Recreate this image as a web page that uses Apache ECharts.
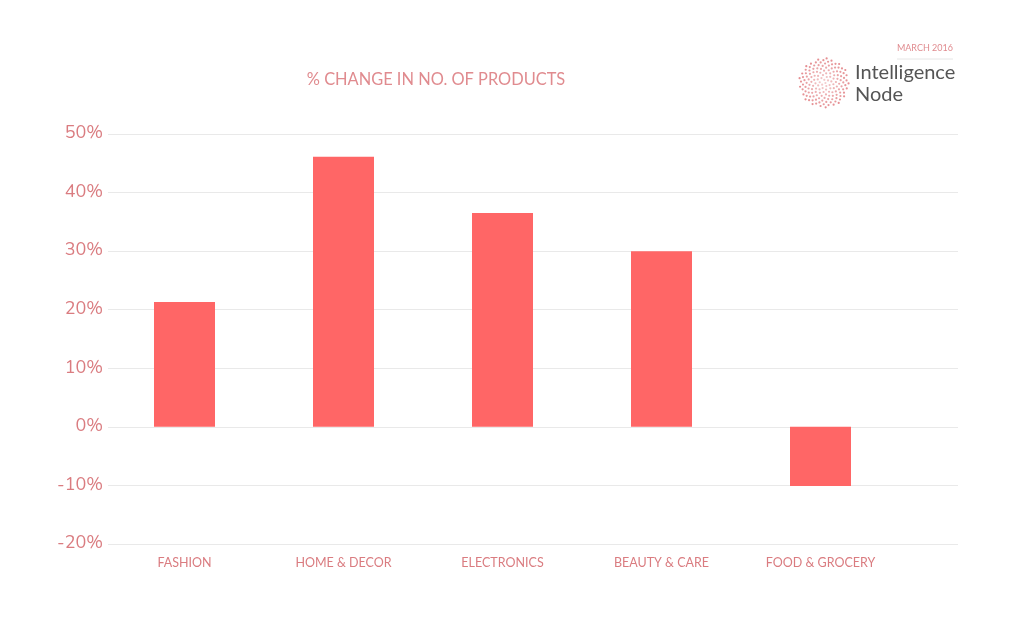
<!DOCTYPE html>
<html>
<head>
<meta charset="utf-8">
<script src="https://cdn.jsdelivr.net/npm/echarts@6/dist/echarts.min.js"></script>
<style>html,body{margin:0;padding:0;background:#fff;}#chart{width:1024px;height:617px;}</style>
</head>
<body>
<div id="chart"></div>
<script>
const categories = ['FASHION', 'HOME & DECOR', 'ELECTRONICS', 'BEAUTY & CARE', 'FOOD & GROCERY'];
const changeValues = [21.3, 46.1, 36.5, 30.0, -10.1];
const yTicks = { min: -20, max: 50, interval: 10 };
const titleText = '% CHANGE IN NO. OF PRODUCTS';
const dateText = 'MARCH 2016';
const brandLines = ['Intelligence', 'Node'];

const labelColor = '#DA7C80';
const barColor = '#FF6666';

// logo dots (decorative phyllotaxis disc)
const logoDots = [];
const cx = 824, cy = 83, R = 25, N = 150;
for (let i = 0; i < N; i++) {
  const r = R * Math.sqrt((i + 0.5) / N);
  const a = i * 2.39996;
  logoDots.push({
    type: 'circle',
    shape: { cx: cx + r * Math.cos(a), cy: cy + r * Math.sin(a), r: 1.1 },
    style: { fill: '#E07A7E', opacity: 0.35 + 0.5 * (r / R) }
  });
}

const chart = echarts.init(document.getElementById('chart'));
chart.setOption({
  backgroundColor: '#ffffff',
  animation: false,
  title: {
    text: titleText,
    left: 431, top: 67, textAlign: 'center',
    textStyle: { fontFamily: 'Lato', fontSize: 16.4, fontWeight: 'normal', color: '#E08B8F' }
  },
  grid: [
    { left: 108, right: 66, top: 134, bottom: 73 },
    { left: 105, right: 124, top: 134, bottom: 73 }
  ],
  xAxis: [
    { type: 'category', gridIndex: 0, data: categories, show: false },
    {
      type: 'category', gridIndex: 1, data: categories,
      axisLine: { show: false }, axisTick: { show: false },
      axisLabel: { color: labelColor, fontFamily: 'Lato', fontSize: 12.5, margin: 12 }
    }
  ],
  yAxis: [
    {
      type: 'value', gridIndex: 0, min: yTicks.min, max: yTicks.max, interval: yTicks.interval,
      axisLine: { show: false }, axisTick: { show: false },
      axisLabel: { formatter: '{value}%', color: labelColor, fontFamily: 'Nunito, Lato', fontSize: 18, margin: 5 },
      splitLine: { lineStyle: { color: '#E9E9E9', width: 1 } }
    },
    {
      type: 'value', gridIndex: 1, min: yTicks.min, max: yTicks.max, interval: yTicks.interval,
      show: false, splitLine: { show: false }
    }
  ],
  series: [{
    type: 'bar', xAxisIndex: 1, yAxisIndex: 1,
    data: changeValues, barWidth: 61,
    itemStyle: { color: barColor }
  }],
  graphic: [
    { type: 'group', children: logoDots },
    { type: 'text', right: 71, top: 44,
      style: { text: dateText, fill: '#E08B8F', fontSize: 9, fontFamily: 'Lato' } },
    { type: 'line', shape: { x1: 897, y1: 59, x2: 953, y2: 59 }, style: { stroke: '#E6E6E6', lineWidth: 1 } },
    { type: 'text', left: 855, top: 63,
      style: { text: brandLines[0], fill: '#555555', fontSize: 20, fontFamily: 'Lato' } },
    { type: 'text', left: 855, top: 85,
      style: { text: brandLines[1], fill: '#555555', fontSize: 20, fontFamily: 'Lato' } }
  ]
});
</script>
</body>
</html>
